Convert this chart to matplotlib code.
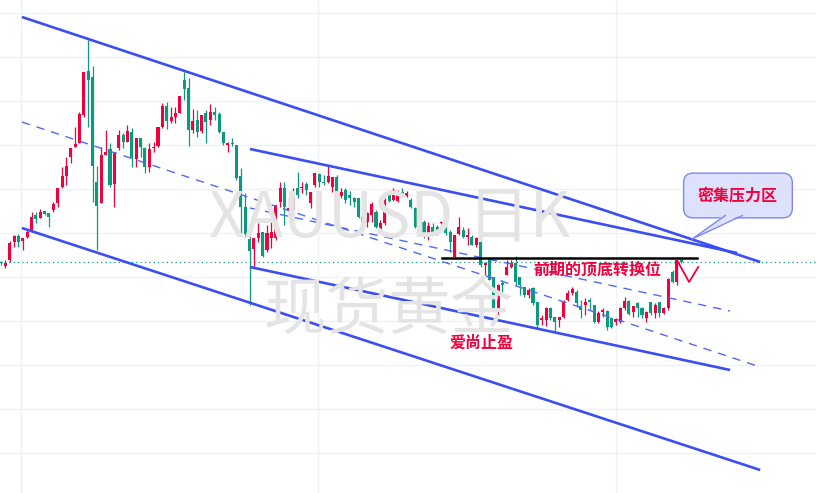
import numpy as np
import matplotlib
matplotlib.use("Agg")
import matplotlib.pyplot as plt

plt.rcParams['font.family'] = ['Noto Sans CJK SC', 'DejaVu Sans']

# XAUUSD 日K - OHLC (红涨绿跌)
opens = [
    2238, 2234, 2240, 2258, 2264, 2259, 2263, 2269, 2285, 2282,
    2289, 2287, 2290, 2297, 2313, 2324, 2343, 2353, 2357, 2385,
    2429, 2423, 2318, 2297, 2345, 2351, 2316, 2352, 2365, 2358,
    2368, 2341, 2362, 2352, 2333, 2352, 2354, 2373, 2394, 2379,
    2383, 2387, 2420, 2412, 2370, 2380, 2369, 2387, 2380, 2388,
    2386, 2368, 2355, 2357, 2355, 2324, 2293, 2261, 2251, 2262,
    2268, 2250, 2262, 2262, 2298, 2312, 2289, 2290, 2312, 2312,
    2316, 2297, 2315, 2326, 2318, 2318, 2313, 2323, 2304, 2310,
    2305, 2302, 2302, 2275, 2278, 2285, 2288, 2270, 2277, 2305,
    2300, 2299, 2308, 2304, 2300, 2292, 2272, 2278, 2264, 2273,
    2273, 2277, 2279, 2268, 2243, 2266, 2270, 2263, 2263, 2255,
    2262, 2235, 2242, 2223, 2188, 2217, 2225, 2233, 2237, 2223,
    2213, 2205, 2212, 2198, 2180, 2180, 2192, 2183, 2180, 2183,
    2200, 2207, 2208, 2194, 2195, 2200, 2195, 2178, 2188, 2189,
    2182, 2178, 2178, 2192, 2199, 2188, 2197, 2192, 2182, 2198,
    2187, 2198, 2187, 2192, 2228, 2218, 2240,
]
highs = [
    2239, 2240, 2259, 2265, 2266, 2262, 2270, 2288, 2288, 2291,
    2289, 2287, 2298, 2312, 2333, 2343, 2352, 2373, 2388, 2428,
    2460, 2434, 2334, 2353, 2370, 2357, 2348, 2370, 2367, 2375,
    2372, 2362, 2362, 2353, 2357, 2358, 2373, 2397, 2398, 2393,
    2393, 2404, 2428, 2422, 2391, 2390, 2385, 2390, 2396, 2393,
    2388, 2368, 2358, 2362, 2355, 2332, 2307, 2272, 2262, 2277,
    2268, 2275, 2280, 2295, 2318, 2318, 2303, 2312, 2328, 2318,
    2318, 2308, 2327, 2327, 2325, 2335, 2323, 2325, 2312, 2312,
    2309, 2303, 2302, 2292, 2288, 2298, 2290, 2280, 2302, 2307,
    2312, 2310, 2312, 2309, 2302, 2293, 2280, 2280, 2278, 2277,
    2275, 2279, 2280, 2270, 2265, 2283, 2273, 2272, 2265, 2263,
    2262, 2238, 2243, 2223, 2216, 2220, 2240, 2240, 2244, 2223,
    2213, 2212, 2213, 2198, 2185, 2193, 2193, 2183, 2183, 2200,
    2210, 2213, 2210, 2200, 2202, 2202, 2195, 2189, 2192, 2190,
    2183, 2182, 2193, 2203, 2200, 2194, 2198, 2193, 2189, 2198,
    2197, 2198, 2193, 2222, 2230, 2243, 2242,
]
lows = [
    2235, 2232, 2238, 2253, 2253, 2250, 2262, 2268, 2277, 2282,
    2285, 2273, 2288, 2293, 2312, 2315, 2337, 2353, 2357, 2383,
    2373, 2298, 2250, 2297, 2345, 2313, 2293, 2350, 2352, 2358,
    2333, 2333, 2343, 2327, 2328, 2348, 2353, 2372, 2371, 2377,
    2377, 2387, 2400, 2354, 2367, 2363, 2367, 2357, 2375, 2380,
    2367, 2355, 2348, 2354, 2320, 2267, 2263, 2195, 2233, 2258,
    2243, 2248, 2252, 2260, 2293, 2275, 2283, 2287, 2302, 2307,
    2305, 2292, 2313, 2313, 2315, 2317, 2308, 2297, 2302, 2297,
    2295, 2293, 2282, 2273, 2273, 2278, 2272, 2267, 2275, 2298,
    2299, 2298, 2303, 2303, 2292, 2272, 2270, 2262, 2260, 2265,
    2265, 2276, 2265, 2248, 2242, 2265, 2262, 2255, 2255, 2253,
    2233, 2225, 2220, 2190, 2183, 2208, 2225, 2232, 2215, 2205,
    2203, 2202, 2195, 2172, 2175, 2174, 2180, 2168, 2173, 2182,
    2199, 2205, 2193, 2182, 2185, 2190, 2177, 2177, 2183, 2170,
    2172, 2175, 2177, 2190, 2185, 2183, 2183, 2182, 2178, 2185,
    2182, 2183, 2186, 2190, 2217, 2215, 2237,
]
closes = [
    2237, 2237, 2257, 2264, 2258, 2262, 2268, 2283, 2281, 2288,
    2286, 2283, 2296, 2312, 2324, 2334, 2352, 2356, 2386, 2428,
    2420, 2334, 2294, 2345, 2348, 2315, 2348, 2365, 2358, 2369,
    2342, 2362, 2353, 2333, 2351, 2353, 2373, 2394, 2379, 2383,
    2387, 2404, 2411, 2370, 2379, 2368, 2385, 2378, 2388, 2385,
    2368, 2357, 2357, 2356, 2322, 2293, 2266, 2249, 2262, 2267,
    2244, 2267, 2268, 2295, 2312, 2293, 2292, 2303, 2305, 2313,
    2310, 2308, 2327, 2318, 2317, 2324, 2323, 2298, 2308, 2300,
    2302, 2298, 2283, 2283, 2287, 2296, 2273, 2277, 2300, 2299,
    2310, 2308, 2304, 2307, 2293, 2273, 2278, 2263, 2274, 2267,
    2267, 2278, 2267, 2258, 2265, 2273, 2263, 2265, 2255, 2262,
    2235, 2237, 2220, 2190, 2215, 2215, 2233, 2237, 2218, 2215,
    2205, 2210, 2197, 2175, 2182, 2192, 2182, 2178, 2183, 2198,
    2207, 2211, 2197, 2190, 2198, 2198, 2178, 2187, 2190, 2173,
    2173, 2181, 2192, 2199, 2186, 2194, 2192, 2185, 2188, 2187,
    2195, 2187, 2192, 2221, 2218, 2240, 2238,
]

# 画线 (K线序号, 价格)
upper_outer = [(4.8, 2483), (174.1, 2238)]
lower_outer = [(4.8, 2272), (174.1, 2030)]
mid_outer = [(4.8, 2378), (174.1, 2133)]
upper_inner = [(57.1, 2351), (168.8, 2247)]
lower_inner = [(57.1, 2233), (167.2, 2130)]
mid_inner = [(57.1, 2292), (167.2, 2189)]
flip_level = [(101.2, 2242), (159.6, 2242)]
last_price = 2238
red_mark = [(155.0, 2240), (157.8, 2218), (159.9, 2233)]

# 气泡框: 中心 + 尖角
bubble_center = (169.0, 2304.5)
bubble_tip = (158.5, 2261)
bubble_base = [(166.1, 2286), (170.0, 2286)]

grid_prices = [2487, 2443, 2399, 2355, 2311, 2267, 2223, 2179, 2135, 2091, 2047]
grid_bars = [4.6, 72.7, 141.1]

RED = '#f2003c'
GREEN = '#0a9b7f'
BLUE = '#3a4ef4'
BUBBLE_FC = '#dde1fc'
BUBBLE_EC = '#7d88f2'

fig = plt.figure(figsize=(8.16, 4.93), dpi=100)
ax = fig.add_axes([0, 0, 1, 1])
ax.set_xlim(-0.23, 186.9)
ax.set_ylim(2007, 2500)
for s in ax.spines.values():
    s.set_visible(False)
ax.set_xticks([])
ax.set_yticks([])
for p in grid_prices:
    ax.axhline(p, color='#eff1f5', lw=1, zorder=0)
for b in grid_bars:
    ax.axvline(b, color='#eff1f5', lw=1, zorder=0)

# 水印
fig.text(0.478, 0.555, 'XAUUSD 日K', fontsize=45, color='#e4e4e4',
         ha='center', va='center', zorder=0)
fig.text(0.476, 0.369, '现货黄金', fontsize=45, color='#e4e4e4',
         ha='center', va='center', zorder=0)

# K线
o = np.array(opens, dtype=float)
h = np.array(highs, dtype=float)
l = np.array(lows, dtype=float)
c = np.array(closes, dtype=float)
x = np.arange(len(o))
cols = np.where(c >= o, RED, GREEN)
ax.vlines(x, l, h, colors=cols, lw=0.9, zorder=3)
ax.bar(x, np.maximum(np.abs(c - o), 0.9), bottom=np.minimum(o, c),
       width=0.7, color=cols, linewidth=0, zorder=4)

# 通道线
for seg in (upper_outer, lower_outer, upper_inner, lower_inner):
    xs, ys = zip(*seg)
    ax.plot(xs, ys, color=BLUE, lw=1.9, solid_capstyle='butt', zorder=5)
for seg in (mid_outer, mid_inner):
    xs, ys = zip(*seg)
    ax.plot(xs, ys, color='#5468f5', lw=1.0, ls=(0, (6, 5)), zorder=5)

ax.axhline(last_price, color=GREEN, lw=0.9, ls=(0, (1, 2.5)), zorder=2)
xs, ys = zip(*flip_level)
ax.plot(xs, ys, color='black', lw=1.8, zorder=6)
xs, ys = zip(*red_mark)
ax.plot(xs, ys, color=RED, lw=1.3, zorder=7)

ax.text(136.7, 2230, '前期的顶底转换位', color=RED, fontsize=11.5,
        fontweight='bold', ha='center', va='center', zorder=8)
ax.text(110.3, 2157, '爱尚止盈', color=RED, fontsize=11.5,
        fontweight='bold', ha='center', va='center', zorder=8)

# 密集压力区 气泡
ax.text(bubble_center[0], bubble_center[1], '密集压力区', color=RED,
        fontsize=11.5, fontweight='bold', ha='center', va='center',
        bbox=dict(boxstyle='round,pad=0.9,rounding_size=0.6',
                  fc=BUBBLE_FC, ec=BUBBLE_EC, lw=1), zorder=9)
tri = [bubble_base[0], bubble_tip, bubble_base[1]]
ax.fill([p[0] for p in tri], [p[1] for p in tri], color=BUBBLE_FC,
        lw=0, zorder=10)
ax.plot([p[0] for p in tri], [p[1] - (1.5 if p != bubble_tip else 0) for p in tri],
        color=BUBBLE_EC, lw=1, zorder=10)

fig.savefig('out.png', dpi=100)
